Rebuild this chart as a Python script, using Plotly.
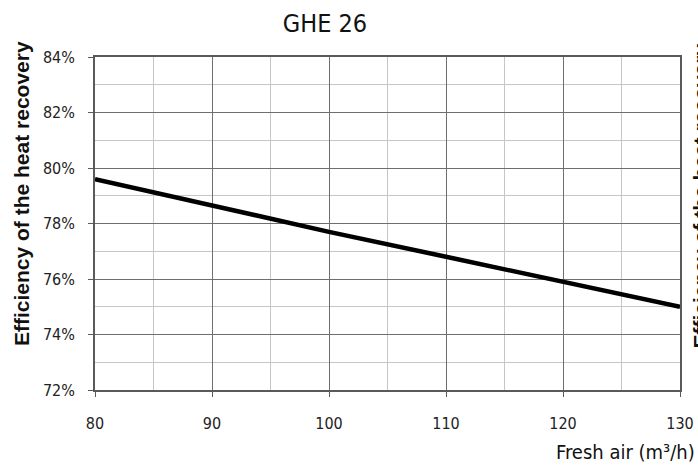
import plotly.graph_objects as go

fresh_air = [80, 90, 100, 110, 120, 130]
efficiency = [79.6, 78.65, 77.7, 76.8, 75.9, 75.0]
x_ticks = [80, 90, 100, 110, 120, 130]
y_ticks = [72, 74, 76, 78, 80, 82, 84]
y_tick_labels = [f"{v}%" for v in y_ticks]
title_text = "GHE 26"
y_title = "<b>Efficiency of the heat recovery</b>"
x_title = "Fresh air (m³/h)"

COND = "DejaVu Sans Condensed, Roboto, sans-serif"
BOLD = "Liberation Sans, Arial, sans-serif"

W, H = 698, 466
# plot area in page pixels: x 95..680, y 57..390
L, R, T, B = 95, 18, 57, 76
pw = W - L - R
ph = H - T - B

def px_x(p):
    return (p - L) / pw

def px_y(p):
    return (T + ph - p) / ph

fig = go.Figure()
fig.add_trace(go.Scatter(x=fresh_air, y=efficiency, mode="lines",
                         line=dict(color="black", width=4.5), showlegend=False,
                         hoverinfo="skip"))

axis_common = dict(showline=True, linecolor="#5a5a5a", linewidth=1.8, mirror=True,
                   ticks="outside", ticklen=5, tickcolor="#5a5a5a", tickwidth=1.3,
                   gridcolor="#6e6e6e", gridwidth=1.2, zeroline=False, automargin=False,
                   tickfont=dict(family=COND, size=16, color="#222"))

fig.update_xaxes(range=[80, 130], tickmode="array", tickvals=x_ticks, ticklabelstandoff=13,
                 minor=dict(dtick=5, tick0=80, showgrid=True, gridcolor="#c6c6c6", gridwidth=1.3, ticks=""),
                 **axis_common)
fig.update_yaxes(range=[72, 84], tickmode="array", tickvals=y_ticks, ticktext=y_tick_labels,
                 ticklabelstandoff=10,
                 minor=dict(dtick=1, tick0=72, showgrid=True, gridcolor="#c6c6c6", gridwidth=1.3, ticks=""),
                 **axis_common)

fig.update_layout(
    width=W, height=H,
    margin=dict(l=L, r=R, t=T, b=B, autoexpand=False),
    plot_bgcolor="white", paper_bgcolor="white",
    title=dict(text=title_text, x=325 / W, xanchor="center",
               y=1 - 23 / H, yanchor="middle",
               font=dict(family=COND, size=25, color="#111")),
)

fig.add_annotation(text=y_title, xref="paper", yref="paper", x=px_x(21), y=px_y(194),
                   xanchor="center", yanchor="middle", textangle=-90, showarrow=False,
                   font=dict(family=BOLD, size=21, color="#111"))
fig.add_annotation(text=y_title, xref="paper", yref="paper", x=px_x(686), y=px_y(196),
                   xanchor="left", yanchor="middle", textangle=-90, showarrow=False,
                   font=dict(family=BOLD, size=21, color="#111"))
fig.add_annotation(text=x_title, xref="paper", yref="paper", x=px_x(697), y=px_y(452),
                   xanchor="right", yanchor="middle", showarrow=False,
                   font=dict(family=COND, size=20, color="#111"))

fig.write_html("out.html", config={"displayModeBar": False},
               post_script="document.body.style.margin='0';document.body.style.overflow='hidden';")
